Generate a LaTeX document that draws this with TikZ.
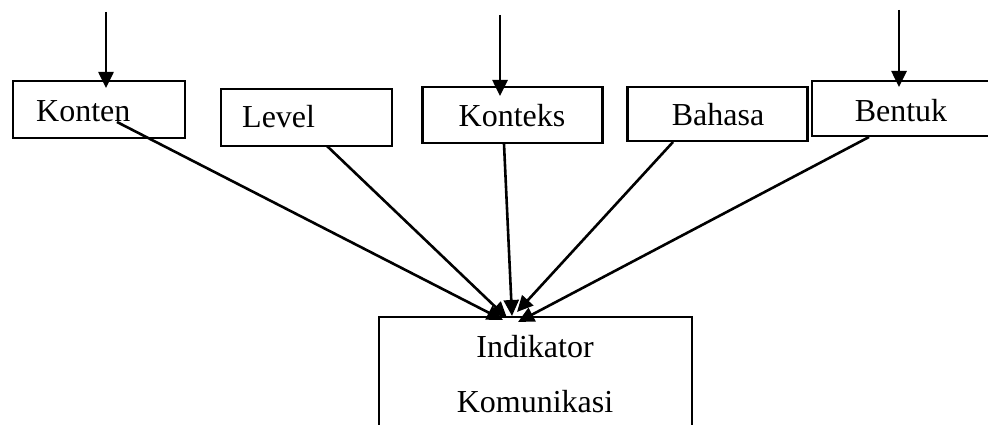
\documentclass[tikz,border=0pt]{standalone}
\usepackage{fontspec}
\setmainfont{Liberation Serif}
\usetikzlibrary{arrows.meta}
\begin{document}
\begin{tikzpicture}[x=1pt,y=-1pt,
  boxst/.style={draw,line width=2.6pt,rectangle,inner sep=0pt},
  lbl/.style={inner sep=0pt,font=\fontsize{32}{38}\selectfont},
  arr/.style={line width=2.6pt,-{Triangle[length=16pt,width=15pt]}}]
\useasboundingbox (0,0) rectangle (988,425);
\clip (0,0) rectangle (988,425);
\fill[white] (0,0) rectangle (988,425);
% boxes
\node[boxst,minimum width=172pt,minimum height=57pt] (kontenbox) at (99,109.5) {};
\node[boxst,minimum width=171pt,minimum height=57pt] (levelbox) at (306.5,117.5) {};
\node[boxst,minimum width=180pt,minimum height=56pt] (konteksbox) at (512.5,115) {};
\node[boxst,minimum width=180pt,minimum height=54pt] (bahasabox) at (717.5,114) {};
\node[boxst,minimum width=200pt,minimum height=55pt] (bentukbox) at (912,108.5) {};
\node[boxst,minimum width=313pt,minimum height=140pt] (indbox) at (535.5,387) {};
% texts
\node[lbl,anchor=base west] (konten) at (36,122) {Konten};
\node[lbl,anchor=base west] (level) at (242,128) {Level};
\node[lbl,anchor=base] (konteks) at (512,127) {Konteks};
\node[lbl,anchor=base] (bahasa) at (718,126) {Bahasa};
\node[lbl,anchor=base] (bentuk) at (901,122) {Bentuk};
\node[lbl,anchor=base] (ind1) at (535,357) {Indikator};
\node[lbl,anchor=base] (ind2) at (535,412) {Komunikasi};
% free ends and connector points
\coordinate (topA) at (106,12);
\coordinate (tipA) at (106,88);
\coordinate (topB) at (500,15);
\coordinate (tipB) at (500,96);
\coordinate (topC) at (899,10);
\coordinate (tipC) at (899,87);
\coordinate (s1) at (117,122);
\coordinate (s2) at (327,146);
\coordinate (s3) at (504,144);
\coordinate (s4) at (673,142);
\coordinate (s5) at (869,137);
\coordinate (e1) at (503,320);
\coordinate (e2) at (507,318);
\coordinate (e3) at (512,316);
\coordinate (e4) at (517,312);
\coordinate (e5) at (518,322);
% arrows
\draw[arr] (topA) -- (tipA);
\draw[arr] (topB) -- (tipB);
\draw[arr] (topC) -- (tipC);
\draw[arr] (s1) -- (e1);
\draw[arr] (s2) -- (e2);
\draw[arr] (s3) -- (e3);
\draw[arr] (s4) -- (e4);
\draw[arr] (s5) -- (e5);
\end{tikzpicture}
\end{document}
